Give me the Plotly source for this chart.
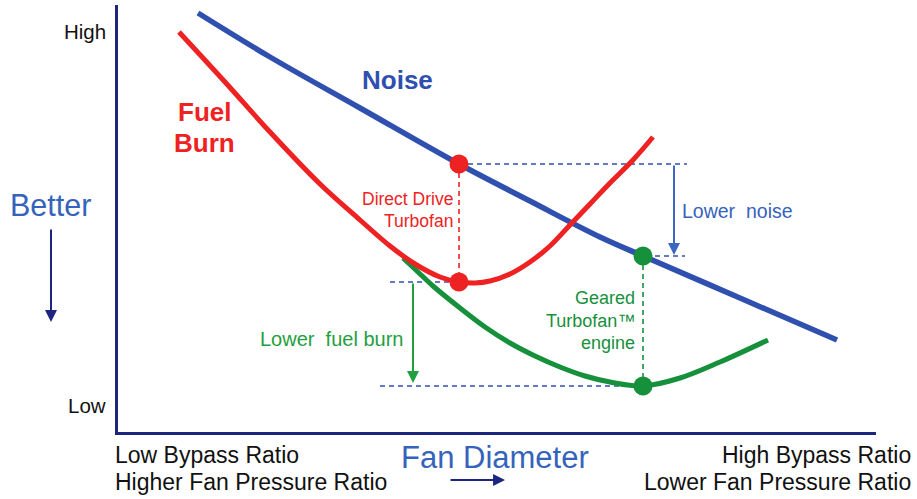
import plotly.graph_objects as go

# ---- Data (conceptual units: x = fan diameter, y = noise / fuel burn level) ----
noise_x = [80, 152, 242, 341, 412, 482, 525, 622, 719]
noise_y = [419, 375, 324, 268, 231, 195, 176, 134, 92]

fuel_x = [61, 107, 152, 202, 242, 272, 297, 322, 341, 357, 372, 392, 412, 432, 452, 472, 492, 515, 535]
fuel_y = [400, 350, 300, 248, 212, 186, 168, 155, 150, 149, 151, 158, 170, 186, 207, 228, 249, 272, 295]

gtf_x = [285, 300, 315, 342, 367, 392, 417, 442, 467, 492, 525, 562, 602, 650]
gtf_y = [174, 160, 146, 124, 105, 89, 76, 65, 56, 50, 46, 54, 70, 92]

# design points
ddtf_x = [341, 341]          # direct drive turbofan: noise, fuel burn
ddtf_y = [268, 150]
gtf_pt_x = [525, 525]        # geared turbofan: noise, fuel burn
gtf_pt_y = [176, 46]

# reference-level dashed lines (x0, x1, y)
noise_ref_dd = (341, 569, 268)
noise_ref_gtf = (537, 567, 176)
fuel_ref_dd = (272, 341, 150)
fuel_ref_gtf = (262, 525, 46)
lower_noise_arrow = (556, 268, 177)     # x, from y, to y
lower_fuel_arrow = (295, 150, 49)

X_RANGE = [0, 758]
Y_RANGE = [0, 427]

BLUE = "#3050b0"
RED = "#ee2222"
GREEN = "#17903c"
NAVY = "#1c2580"
TXT_BLUE = "#3563bb"
FONT = "Liberation Sans, Arial, sans-serif"

fig = go.Figure()
fig.add_trace(go.Scatter(x=noise_x, y=noise_y, mode="lines",
                         line=dict(color=BLUE, width=5.5, shape="spline", smoothing=1.0),
                         hoverinfo="skip"))
fig.add_trace(go.Scatter(x=gtf_x, y=gtf_y, mode="lines",
                         line=dict(color=GREEN, width=5, shape="spline", smoothing=1.0),
                         hoverinfo="skip"))
fig.add_trace(go.Scatter(x=fuel_x, y=fuel_y, mode="lines",
                         line=dict(color=RED, width=5, shape="spline", smoothing=1.0),
                         hoverinfo="skip"))

# dashed guide lines
def dash(x0, y0, x1, y1, color):
    fig.add_shape(type="line", x0=x0, y0=y0, x1=x1, y1=y1, xref="x", yref="y",
                  line=dict(color=color, width=1.6, dash="5px,4px"), layer="below")

dash(noise_ref_dd[0], noise_ref_dd[2], noise_ref_dd[1], noise_ref_dd[2], BLUE)
dash(noise_ref_gtf[0], noise_ref_gtf[2], noise_ref_gtf[1], noise_ref_gtf[2], BLUE)
dash(fuel_ref_dd[0], fuel_ref_dd[2], fuel_ref_dd[1], fuel_ref_dd[2], BLUE)
dash(fuel_ref_gtf[0], fuel_ref_gtf[2], fuel_ref_gtf[1], fuel_ref_gtf[2], BLUE)
dash(ddtf_x[0], ddtf_y[0], ddtf_x[1], ddtf_y[1], RED)
dash(gtf_pt_x[0], gtf_pt_y[0], gtf_pt_x[1], gtf_pt_y[1], GREEN)

fig.add_trace(go.Scatter(x=ddtf_x, y=ddtf_y, mode="markers",
                         marker=dict(color=RED, size=19), hoverinfo="skip"))
fig.add_trace(go.Scatter(x=gtf_pt_x, y=gtf_pt_y, mode="markers",
                         marker=dict(color=GREEN, size=19), hoverinfo="skip"))

ann = []
# arrows
ann.append(dict(x=lower_noise_arrow[0], y=lower_noise_arrow[2], ax=lower_noise_arrow[0],
                ay=lower_noise_arrow[1], xref="x", yref="y", axref="x", ayref="y",
                showarrow=True, arrowhead=2, arrowsize=1.2, arrowwidth=2, arrowcolor="#3c66c0", text=""))
ann.append(dict(x=lower_fuel_arrow[0], y=lower_fuel_arrow[2], ax=lower_fuel_arrow[0],
                ay=lower_fuel_arrow[1], xref="x", yref="y", axref="x", ayref="y",
                showarrow=True, arrowhead=2, arrowsize=1.2, arrowwidth=2, arrowcolor="#22a040", text=""))
# "Better" arrow (outside plot)
ann.append(dict(x=-0.0884, y=0.2576, xref="paper", yref="paper", ax=0, ay=-94,
                showarrow=True, arrowhead=2, arrowsize=1.2, arrowwidth=2, arrowcolor=NAVY, text=""))
# Fan diameter arrow
ann.append(dict(x=0.5106, y=-0.1124, xref="paper", yref="paper", ax=-56, ay=0,
                showarrow=True, arrowhead=2, arrowsize=1.2, arrowwidth=2, arrowcolor=NAVY, text=""))

def txt(text, x, y, size, color, xanchor="center", bold=False, xref="x", yref="y", xshift=0):
    t = f"<b>{text}</b>" if bold else text
    ann.append(dict(text=t, x=x, y=y, xref=xref, yref=yref, showarrow=False,
                    xanchor=xanchor, yanchor="middle", xshift=xshift,
                    font=dict(family=FONT, size=size, color=color)))

txt("High", 0, 0.939, 20.5, "#111111", xanchor="right", xref="paper", yref="paper", xshift=-10)
txt("Low", 0, 0.0632, 20.5, "#111111", xanchor="right", xref="paper", yref="paper", xshift=-10)
txt("Noise", 279, 352, 26, "#2f4fb0", bold=True)
txt("Fuel", 86, 320, 26, RED, bold=True)
txt("Burn", 86, 289, 26, RED, bold=True)
txt("Direct Drive", 337, 233, 17.5, RED, xanchor="right")
txt("Turbofan", 337, 211, 17.5, RED, xanchor="right")
txt("Lower  noise", 562, 221, 19.5, "#3563bb", xanchor="left")
txt("Geared", 519, 134, 18, GREEN, xanchor="right")
txt("Turbofan™", 519, 111, 18, GREEN, xanchor="right")
txt("engine", 519, 89, 18, GREEN, xanchor="right")
txt("Lower  fuel burn", 287, 93, 20, "#22a040", xanchor="right")

# labels outside the plot (paper coords)
txt("Better", -0.0897, 0.5316, 30.5, TXT_BLUE, xref="paper", yref="paper")
txt("Fan Diameter", 0.498, -0.059, 31, TXT_BLUE, xref="paper", yref="paper")
txt("Low Bypass Ratio", -0.0066, -0.054, 23, "#111111", xanchor="left", xref="paper", yref="paper")
txt("Higher Fan Pressure Ratio", -0.0066, -0.117, 23, "#111111", xanchor="left", xref="paper", yref="paper")
txt("High Bypass Ratio", 1.0488, -0.054, 23, "#111111", xanchor="right", xref="paper", yref="paper")
txt("Lower Fan Pressure Ratio", 1.0488, -0.117, 23, "#111111", xanchor="right", xref="paper", yref="paper")

fig.update_layout(
    width=917, height=499,
    margin=dict(l=118, r=41, t=5, b=67),
    paper_bgcolor="white", plot_bgcolor="white",
    showlegend=False,
    annotations=ann,
    xaxis=dict(range=X_RANGE, showgrid=False, zeroline=False, showticklabels=False, ticks="",
               showline=True, linecolor=NAVY, linewidth=3, fixedrange=True),
    yaxis=dict(range=Y_RANGE, showgrid=False, zeroline=False, showticklabels=False, ticks="",
               showline=True, linecolor=NAVY, linewidth=3, fixedrange=True),
)

fig.write_html("out.html", config={"displayModeBar": False},
               post_script="document.body.style.margin='0';document.body.style.overflow='hidden';")
